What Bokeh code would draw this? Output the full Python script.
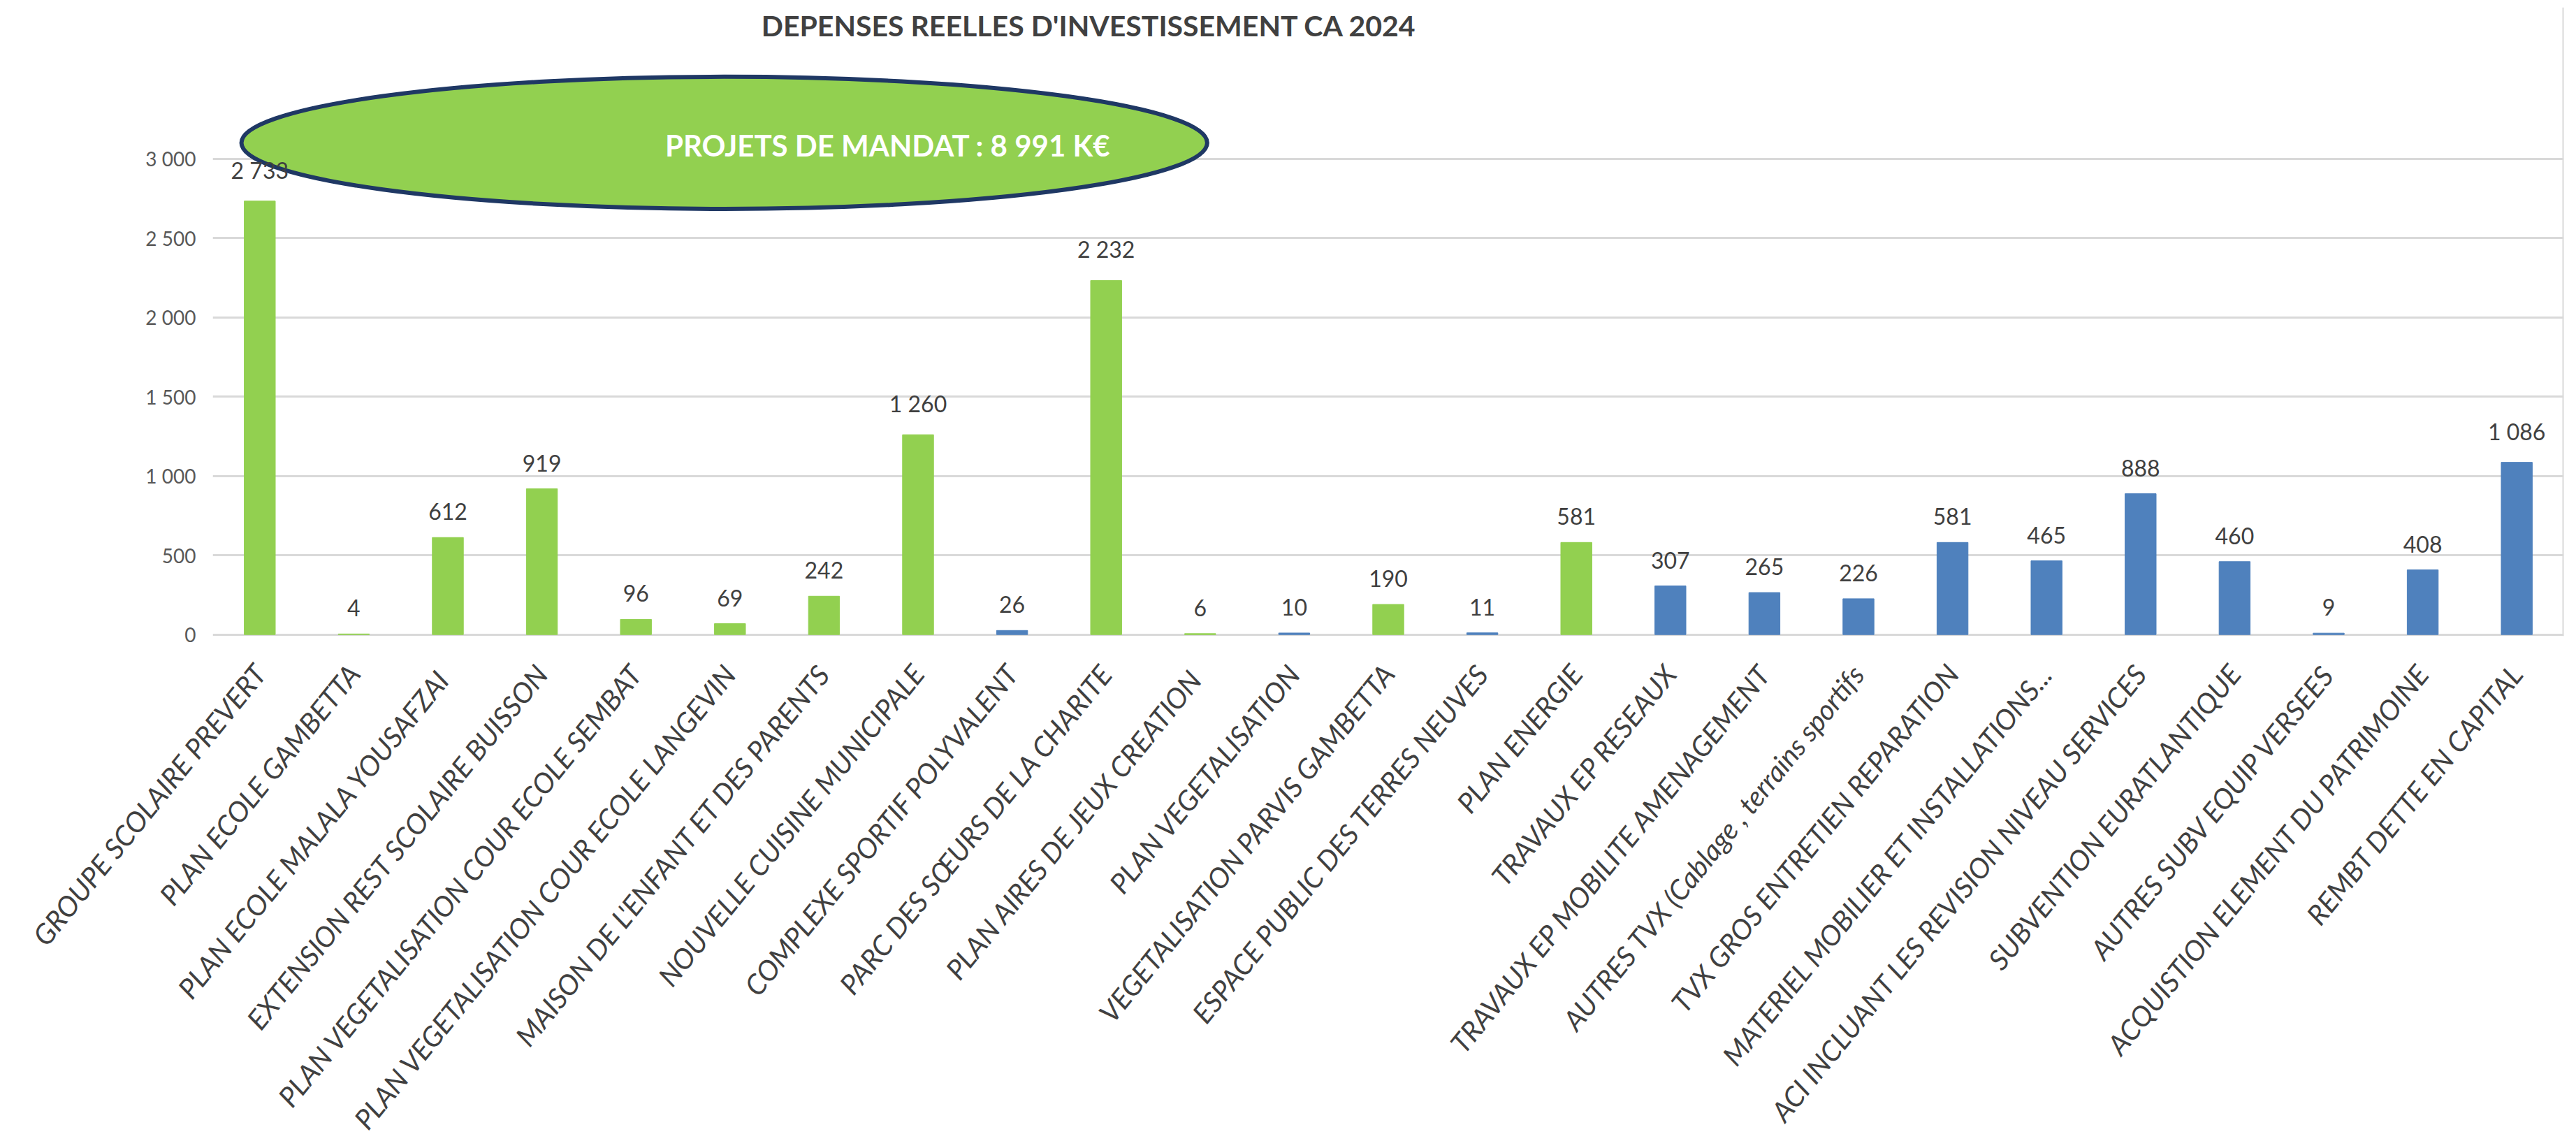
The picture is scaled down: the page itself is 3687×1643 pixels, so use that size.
from bokeh.plotting import figure
from bokeh.models import ColumnDataSource, FactorRange, Range1d, FixedTicker, Label, Span
from bokeh.core.properties import value
from bokeh.embed import file_html
from bokeh.resources import INLINE

categories = [
    "GROUPE SCOLAIRE PREVERT",
    "PLAN ECOLE GAMBETTA",
    "PLAN ECOLE MALALA  YOUSAFZAI",
    "EXTENSION REST SCOLAIRE BUISSON",
    "PLAN VEGETALISATION COUR ECOLE SEMBAT",
    "PLAN VEGETALISATION COUR ECOLE LANGEVIN",
    "MAISON DE L'ENFANT ET DES PARENTS",
    "NOUVELLE CUISINE MUNICIPALE",
    "COMPLEXE SPORTIF POLYVALENT",
    "PARC DES SŒURS DE LA CHARITE",
    "PLAN AIRES  DE JEUX CREATION",
    "PLAN VEGETALISATION",
    "VEGETALISATION PARVIS GAMBETTA",
    "ESPACE PUBLIC DES TERRES NEUVES",
    "PLAN ENERGIE",
    "TRAVAUX EP RESEAUX",
    "TRAVAUX EP MOBILITE AMENAGEMENT",
    "AUTRES TVX (Cablage , terrains sportifs",
    "TVX GROS ENTRETIEN REPARATION",
    "MATERIEL MOBILIER ET INSTALLATIONS...",
    "ACI INCLUANT LES REVISION NIVEAU SERVICES",
    "SUBVENTION EURATLANTIQUE",
    "AUTRES SUBV EQUIP VERSEES",
    "ACQUISTION ELEMENT DU PATRIMOINE",
    "REMBT DETTE EN CAPITAL",
]
values = [2733, 4, 612, 919, 96, 69, 242, 1260, 26, 2232, 6, 10, 190, 11, 581,
          307, 265, 226, 581, 465, 888, 460, 9, 408, 1086]
groups = ["mandat", "mandat", "mandat", "mandat", "mandat", "mandat", "mandat", "mandat",
          "autre", "mandat", "mandat", "autre", "mandat", "autre", "mandat",
          "autre", "autre", "autre", "autre", "autre", "autre", "autre", "autre", "autre", "autre"]
y_ticks = [0, 500, 1000, 1500, 2000, 2500, 3000]
y_tick_labels = ["0", "500", "1 000", "1 500", "2 000", "2 500", "3 000"]

TITLE = "DEPENSES REELLES D'INVESTISSEMENT CA 2024"
BUBBLE_TEXT = "PROJETS DE MANDAT : 8 991 K€"

GREEN = "#92D050"
BLUE = "#4F81BD"
TEXT = "#404040"
FONT = "Lato"

colors = [GREEN if g == "mandat" else BLUE for g in groups]
labels = [f"{v:,}".replace(",", " ") for v in values]

src = ColumnDataSource(dict(cat=categories, val=values, color=colors, lbl=labels))

p = figure(
    x_range=FactorRange(*categories, range_padding=0),
    y_range=Range1d(-10, 3954),
    frame_width=3365, frame_height=900,
    min_border_left=304, min_border_right=8, min_border_top=10, min_border_bottom=700,
    output_backend="svg", toolbar_location=None,
)
p.outline_line_color = None
p.background_fill_color = "white"
p.border_fill_color = "white"

p.vbar(x="cat", top="val", width=0.33, color="color", source=src)

# bubble (drawn before the value labels so that they stay readable)
ELL_X, ELL_Y, ELL_W, ELL_H = 5.44, 3100, 10.27, 833
p.ellipse(x=[ELL_X], y=[ELL_Y], width=[ELL_W], height=[ELL_H],
          fill_color=GREEN, line_color="#1F3864", line_width=6)

p.text(x="cat", y="val", text="lbl", source=src, y_offset=-25,
       text_align="center", text_baseline="bottom",
       text_font=value(FONT), text_font_size="32px", text_color=TEXT)

# y axis
p.yaxis.ticker = FixedTicker(ticks=y_ticks)
p.yaxis.major_label_overrides = {t: l for t, l in zip(y_ticks, y_tick_labels)}
p.yaxis.axis_line_color = None
p.yaxis.major_tick_line_color = None
p.yaxis.minor_tick_line_color = None
p.yaxis.major_tick_out = 0
p.yaxis.major_label_standoff = 24
p.yaxis.major_label_text_font = FONT
p.yaxis.major_label_text_font_size = "28px"
p.yaxis.major_label_text_color = "#595959"
p.ygrid.grid_line_color = "#D9D9D9"
p.ygrid.grid_line_width = 3
p.xgrid.grid_line_color = None

# x axis
p.xaxis.axis_line_color = None
p.xaxis.major_tick_line_color = None
p.xaxis.major_tick_out = 0
p.xaxis.major_label_standoff = 46
p.xaxis.major_label_orientation = 0.89
p.xaxis.major_label_text_font = FONT
p.xaxis.major_label_text_font_style = "italic"
p.xaxis.major_label_text_font_size = "40px"
p.xaxis.major_label_text_color = TEXT

# right border line
p.add_layout(Span(location=len(categories), dimension="height", line_color="#D9D9D9", line_width=4))

p.add_layout(Label(x=7.18, y=3084, text=BUBBLE_TEXT, text_align="center", text_baseline="middle",
                   text_font=FONT, text_font_style="bold", text_font_size="42px", text_color="white"))

# title
p.add_layout(Label(x=9.32, y=3838, text=TITLE, text_align="center", text_baseline="middle",
                   text_font=FONT, text_font_style="bold", text_font_size="41px", text_color=TEXT))

open("out.html", "w").write(file_html(p, INLINE))
